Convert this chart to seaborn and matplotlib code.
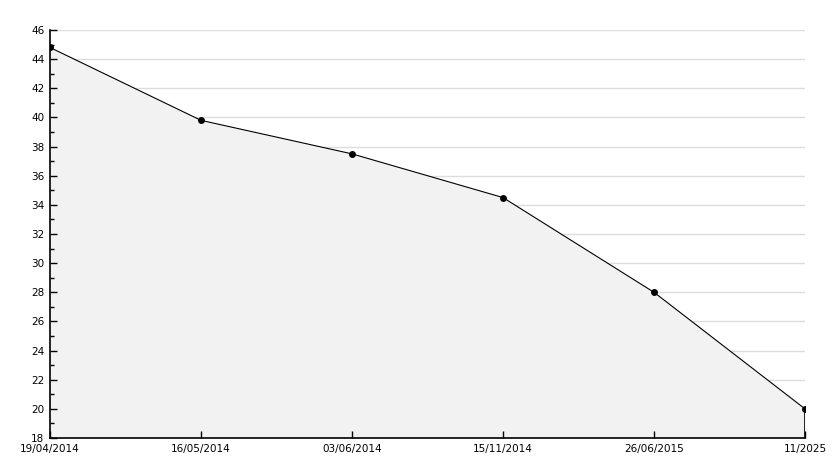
import matplotlib
matplotlib.use("Agg")
import matplotlib.pyplot as plt
import seaborn as sns
import pandas as pd
import numpy as np
from matplotlib.ticker import MultipleLocator

dates = ["19/04/2014", "16/05/2014", "03/06/2014", "15/11/2014", "26/06/2015", "11/2025"]
values = [44.8, 39.8, 37.5, 34.5, 28.0, 20.0]

sns.set_style("white")
plt.rcParams['font.family'] = ['DejaVu Sans']

df = pd.DataFrame({"pos": np.arange(len(dates)), "value": values})

fig = plt.figure(figsize=(8.34, 4.68), dpi=100)
ax = fig.add_axes([50/834, 30/468, 755/834, 408/468])

ymin, ymax = 18, 46
ax.set_xlim(0, len(dates) - 1)
ax.set_ylim(ymin, ymax)

grid_vals = np.arange(ymin + 2, ymax + 1, 2)
ax.hlines(grid_vals, 0, len(dates) - 1, color="#dddddd", linewidth=1, zorder=1)

ax.fill_between(df["pos"], df["value"], ymin, color="#f2f2f2", zorder=2, linewidth=0)
sns.lineplot(data=df, x="pos", y="value", ax=ax, color="black", linewidth=0.8,
             marker="o", markersize=5, markeredgewidth=0, zorder=3)
ax.vlines(df["pos"].iloc[-1], ymin, df["value"].iloc[-1], color="black", linewidth=1.2, zorder=3)

ax.yaxis.set_major_locator(MultipleLocator(2))
ax.yaxis.set_minor_locator(MultipleLocator(1))
ax.set_xticks(df["pos"])
ax.set_xticklabels(dates)
ax.set_xlabel("")
ax.set_ylabel("")
ax.grid(False)
ax.set_axisbelow(False)

for s in ["top", "right"]:
    ax.spines[s].set_visible(False)
for s in ["left", "bottom"]:
    ax.spines[s].set_color("black")
    ax.spines[s].set_linewidth(1.2)
    ax.spines[s].set_zorder(4)

ax.tick_params(axis="y", which="major", direction="in", length=5, width=1, labelsize=7.5, pad=4,
               left=True, color="black", labelcolor="black")
ax.tick_params(axis="y", which="minor", direction="in", length=3, width=1, left=True, color="black")
ax.tick_params(axis="x", which="major", direction="in", length=5, width=1, labelsize=7.5, pad=4,
               bottom=True, color="black", labelcolor="black")

fig.savefig("out.png", dpi=100)
